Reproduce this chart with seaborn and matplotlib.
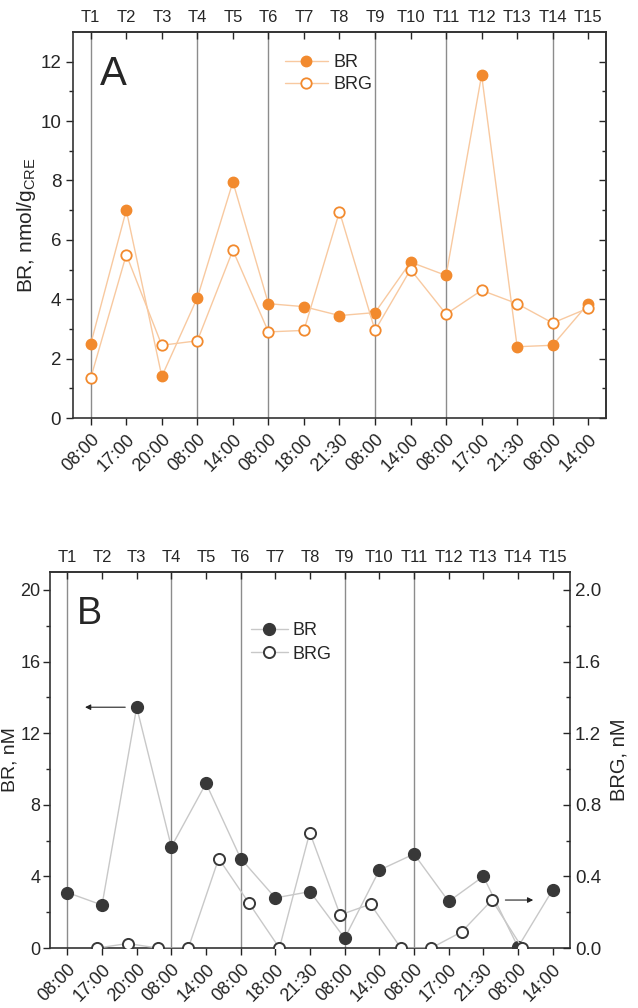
import matplotlib
matplotlib.use("Agg")
import matplotlib.pyplot as plt
import seaborn as sns
import numpy as np

# ---- data ----
t_labels = ["T1", "T2", "T3", "T4", "T5", "T6", "T7", "T8", "T9", "T10",
            "T11", "T12", "T13", "T14", "T15"]
time_labels = ["08:00", "17:00", "20:00", "08:00", "14:00", "08:00", "18:00",
               "21:30", "08:00", "14:00", "08:00", "17:00", "21:30", "08:00", "14:00"]
t_idx = list(range(1, 16))

# panel A (nmol/g CRE)
br_a = [2.5, 7.0, 1.4, 4.05, 7.95, 3.85, 3.75, 3.45, 3.55, 5.25, 4.8, 11.55, 2.4, 2.45, 3.85]
brg_a = [1.35, 5.5, 2.45, 2.6, 5.65, 2.9, 2.95, 6.95, 2.95, 5.0, 3.5, 4.3, 3.85, 3.2, 3.7]
day_starts_a = [1, 4, 6, 9, 11, 14]

# panel B (nM)
br_b = [3.1, 2.4, 13.45, 5.65, 9.2, 5.0, 2.8, 3.15, 0.55, 4.35, 5.25, 2.6, 4.0, 0.05, 3.25]
brg_b = [0.0, 0.025, 0.0, 0.0, 0.5, 0.25, 0.0, 0.645, 0.185, 0.245, 0.0, 0.0, 0.09, 0.268, 0.0]
day_starts_b = [1, 4, 6, 9, 11]

# ---- style ----
sns.set_style("ticks")
plt.rcParams['font.family'] = ['Liberation Sans', 'DejaVu Sans']
plt.rcParams['mathtext.default'] = 'regular'
plt.rcParams['axes.linewidth'] = 1.2
plt.rcParams['axes.edgecolor'] = '#333333'

orange = '#f28a2e'
orange_line = '#f8c9a0'
dark = '#383838'
grey_line = '#c8c8c8'
vline_col = '#8c8c8c'

fig = plt.figure(figsize=(6.38, 10.08), dpi=100)


def style_x(ax):
    ax.set_xlim(0.5, 15.5)
    ax.set_xticks(t_idx)
    ax.set_xticklabels(time_labels, rotation=45, ha='right', va='top',
                       rotation_mode='anchor', fontsize=13)
    ax.tick_params(axis='x', direction='out', length=5, width=1, pad=4, colors='#222222')
    top = ax.secondary_xaxis('top')
    top.set_xticks(t_idx)
    top.set_xticklabels(t_labels, fontsize=12)
    top.tick_params(direction='in', length=5, width=1, pad=5)
    ax.set_xlabel("")


# -------- PANEL A --------
ax = fig.add_axes([0.1144, 0.5853, 0.8354, 0.383])
for d in day_starts_a:
    ax.axvline(d, color=vline_col, lw=1, zorder=0)

sns.lineplot(x=t_idx, y=br_a, ax=ax, color=orange_line, lw=1, marker='o',
             markersize=7.5, markerfacecolor=orange, markeredgecolor=orange,
             markeredgewidth=1, label='BR', zorder=3)
sns.lineplot(x=t_idx, y=brg_a, ax=ax, color=orange_line, lw=1, marker='o',
             markersize=7.5, markerfacecolor='white', markeredgecolor=orange,
             markeredgewidth=1.3, label='BRG', zorder=3)

ax.set_ylim(0, 13)
ax.set_yticks(range(0, 13, 2))
ax.set_yticks(range(1, 13, 2), minor=True)
ax.tick_params(axis='y', which='major', direction='out', length=5, width=1, labelsize=13.5)
ax.tick_params(axis='y', which='minor', direction='out', length=3, width=1)
right = ax.secondary_yaxis('right')
right.set_yticks(range(0, 13, 2))
right.set_yticks(range(1, 13, 2), minor=True)
right.tick_params(which='major', direction='in', length=5, width=1, labelright=False)
right.tick_params(which='minor', direction='in', length=3, width=1)
style_x(ax)
ax.set_ylabel("BR, nmol/g$_{CRE}$", fontsize=15)
ax.yaxis.set_label_coords(-0.066, 0.5)
ax.text(0.05, 0.94, "A", transform=ax.transAxes, fontsize=29, va='top', ha='left')
ax.legend(loc='upper left', bbox_to_anchor=(0.38, 0.965), frameon=False,
          fontsize=13, handlelength=2.4, handletextpad=0.3, labelspacing=0.25,
          borderpad=0)

# -------- PANEL B --------
pos_b = [0.0784, 0.0595, 0.815, 0.373]
axb = fig.add_axes(pos_b)
for d in day_starts_b:
    axb.axvline(d, color=vline_col, lw=1, zorder=0)

sns.lineplot(x=t_idx, y=br_b, ax=axb, color=grey_line, lw=1, marker='o',
             markersize=8.5, markerfacecolor=dark, markeredgecolor=dark,
             markeredgewidth=1, label='BR', zorder=3)
axb.set_ylim(0, 21)
axb.set_yticks(range(0, 21, 4))
axb.set_yticks(range(2, 21, 4), minor=True)
axb.tick_params(axis='y', which='major', direction='out', length=5, width=1,
                labelsize=13, pad=2)
axb.tick_params(axis='y', which='minor', direction='out', length=3, width=1)
style_x(axb)
axb.set_ylabel("BR, nM", fontsize=14)
axb.yaxis.set_label_coords(-0.06, 0.5)
axb.text(0.052, 0.935, "B", transform=axb.transAxes, fontsize=27, va='top', ha='left')

# BRG drawn on its own overlay axes (own x scale, right-hand y scale)
axr = fig.add_axes(pos_b, facecolor='none')
sns.lineplot(x=t_idx, y=brg_b, ax=axr, color=grey_line, lw=1, marker='o',
             markersize=8, markerfacecolor='white', markeredgecolor=dark,
             markeredgewidth=1.4, label='BRG', zorder=3)
axr.set_xlim(-0.555, 16.57)
axr.set_ylim(0, 2.1)
axr.xaxis.set_visible(False)
for s in axr.spines.values():
    s.set_visible(False)
axr.yaxis.tick_right()
axr.yaxis.set_label_position('right')
axr.set_yticks(np.arange(0, 2.01, 0.4))
axr.set_yticks(np.arange(0.2, 2.01, 0.4), minor=True)
axr.set_yticklabels([f"{v:.1f}" for v in np.arange(0, 2.01, 0.4)])
axr.tick_params(axis='y', which='major', direction='in', length=5, width=1, labelsize=13.5)
axr.tick_params(axis='y', which='minor', direction='in', length=3, width=1)
axr.set_ylabel("BRG, nM", fontsize=14.5, labelpad=6)

# arrows pointing to the axis each series belongs to
axb.annotate("", xy=(1.43, br_b[2]), xytext=(2.75, br_b[2]),
             arrowprops=dict(arrowstyle='-|>', color='#222222', lw=0.8, mutation_scale=8))
axr.annotate("", xy=(15.45, brg_b[13]), xytext=(14.35, brg_b[13]),
             arrowprops=dict(arrowstyle='-|>', color='#222222', lw=0.8, mutation_scale=8))

h1, l1 = axb.get_legend_handles_labels()
h2, l2 = axr.get_legend_handles_labels()
if axb.get_legend() is not None:
    axb.get_legend().remove()
axr.legend(h1 + h2, l1 + l2, loc='upper left', bbox_to_anchor=(0.37, 0.89),
           frameon=False, fontsize=13, handlelength=2.0, handletextpad=0.3,
           labelspacing=0.35, borderpad=0)

plt.savefig("out.png", dpi=100)
plt.close()
